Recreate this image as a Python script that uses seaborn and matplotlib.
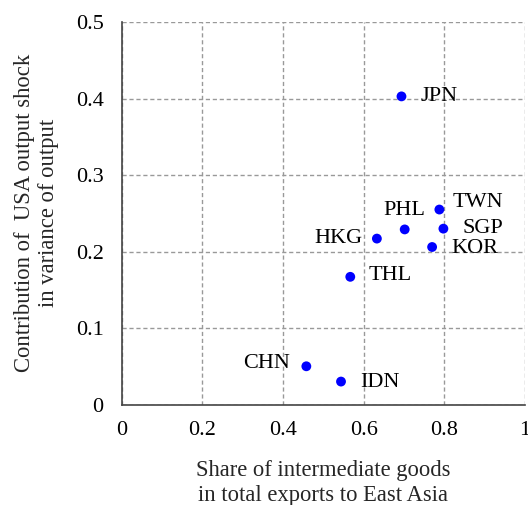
import pandas as pd
import seaborn as sns
import matplotlib.pyplot as plt

# --------------------------------------------------------------------------------------------------
# Data
countries = ["JPN", "TWN", "PHL", "SGP", "HKG", "KOR", "THL", "CHN", "IDN"]
share_intermediate = [0.694, 0.788, 0.702, 0.798, 0.633, 0.770, 0.567, 0.458, 0.544]
usa_contribution = [0.403, 0.255, 0.229, 0.230, 0.217, 0.206, 0.167, 0.050, 0.030]
x_ticks = [0, 0.2, 0.4, 0.6, 0.8, 1]
x_tick_labels = ["0", "0.2", "0.4", "0.6", "0.8", "1"]
y_ticks = [0, 0.1, 0.2, 0.3, 0.4, 0.5]
y_tick_labels = ["0", "0.1", "0.2", "0.3", "0.4", "0.5"]

df = pd.DataFrame({"country": countries, "share": share_intermediate, "contrib": usa_contribution})

# label placement (offset in pixels, horizontal alignment)
label_pos = {
    "JPN": ((19, 0), "left"),
    "TWN": ((13, 7), "left"),
    "PHL": ((0, 19), "center"),
    "SGP": ((19, 0), "left"),
    "KOR": ((19, -1), "left"),
    "HKG": ((-14, 0), "right"),
    "THL": ((18, 1), "left"),
    "CHN": ((-16, 3), "right"),
    "IDN": ((19, -1), "left"),
}
# --------------------------------------------------------------------------------------------------
sns.set_style("white")
plt.rcParams["font.family"] = ["Liberation Serif", "DejaVu Serif"]

fig = plt.figure(figsize=(5.28, 5.05), dpi=100)
ax = fig.add_axes([0.2305, 0.199, 0.7635, 0.757])

sns.scatterplot(data=df, x="share", y="contrib", color="#0000ff", s=50, edgecolor="none", ax=ax, zorder=3)

for _, row in df.iterrows():
    (dx, dy), ha = label_pos[row["country"]]
    ax.annotate(row["country"], (row["share"], row["contrib"]), xytext=(dx, dy),
                textcoords="offset pixels", ha=ha, va="center", fontsize=16, color="black")

ax.set_xlim(0, 1)
ax.set_ylim(0, 0.5)
ax.set_xticks(x_ticks)
ax.set_xticklabels(x_tick_labels)
ax.set_yticks(y_ticks)
ax.set_yticklabels(y_tick_labels)
ax.tick_params(axis="x", length=0, pad=12, labelsize=16, labelcolor="black")
ax.tick_params(axis="y", length=0, pad=13, labelsize=16, labelcolor="black")

ax.grid(True, linestyle=(0, (3, 2)), color="#999999", linewidth=1.0)
ax.set_axisbelow(True)
for side in ["top", "right"]:
    ax.spines[side].set_visible(False)
for side in ["left", "bottom"]:
    ax.spines[side].set_color("#444444")
    ax.spines[side].set_linewidth(1.2)

ax.set_xlabel("Share of intermediate goods\nin total exports to East Asia", fontsize=16.3, labelpad=14,
              linespacing=1.25)
ax.set_ylabel("Contribution of  USA output shock\nin variance of output", fontsize=16.3, labelpad=12,
              linespacing=1.2)

fig.savefig("out.png", dpi=100)
